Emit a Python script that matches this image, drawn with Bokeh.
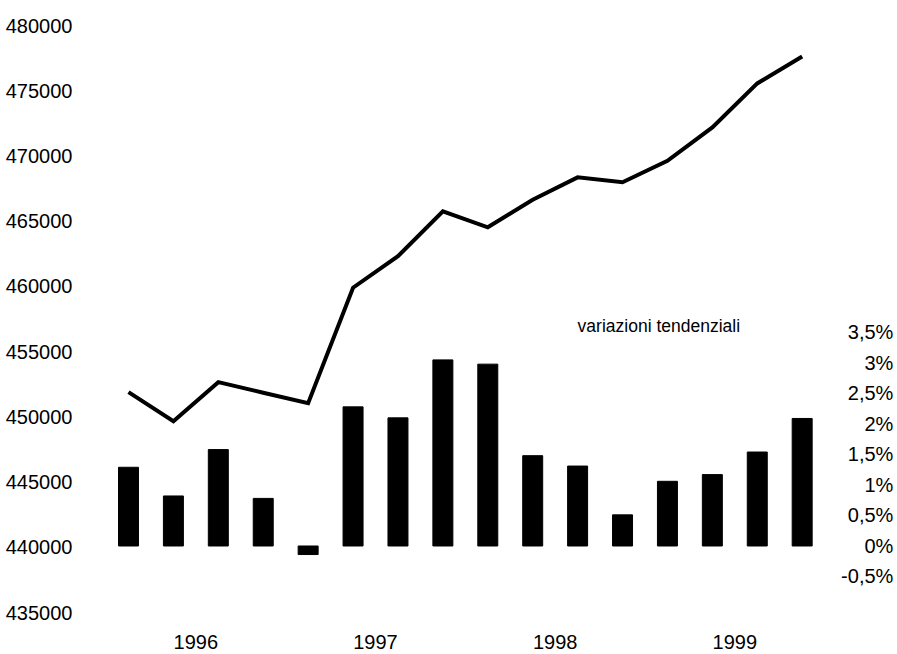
from bokeh.plotting import figure
from bokeh.models import Range1d, FixedTicker, BasicTickFormatter, Label, ColumnDataSource
from bokeh.embed import file_html
from bokeh.resources import INLINE

# ---- data ----
quarters = ["1996 T1", "1996 T2", "1996 T3", "1996 T4",
            "1997 T1", "1997 T2", "1997 T3", "1997 T4",
            "1998 T1", "1998 T2", "1998 T3", "1998 T4",
            "1999 T1", "1999 T2", "1999 T3", "1999 T4"]
level = [451890, 449670, 452660, 451850, 451050, 459900, 462310, 465750,
         464530, 466640, 468360, 467980, 469620, 472190, 475560, 477630]
variation = [1.29, 0.82, 1.58, 0.78, -0.14, 2.28, 2.10, 3.05,
             2.98, 1.48, 1.31, 0.51, 1.06, 1.17, 1.54, 2.09]
year_labels = ["1996", "1997", "1998", "1999"]
left_ticks = [435000, 440000, 445000, 450000, 455000, 460000, 465000, 470000, 475000, 480000]
pct_ticks = [-0.5, 0, 0.5, 1, 1.5, 2, 2.5, 3, 3.5]
pct_tick_labels = ["-0,5%", "0%", "0,5%", "1%", "1,5%", "2%", "2,5%", "3%", "3,5%"]
series_note = "variazioni tendenziali"

FONT = "Liberation Sans"
idx = list(range(len(quarters)))
src = ColumnDataSource(dict(x=idx, level=level, var=variation))

p = figure(width=895, height=652, output_backend="svg", toolbar_location=None,
           x_range=Range1d(-0.846, 17.078), y_range=Range1d(435000, 480000),
           min_border_left=90, min_border_right=0, min_border_top=25, min_border_bottom=40)
p.extra_y_ranges = {"pct": Range1d(-1.09, 8.53)}
p.outline_line_color = None
p.background_fill_color = "white"
p.border_fill_color = "white"
p.xgrid.visible = False
p.ygrid.visible = False

# bars: year-on-year variation (right scale)
p.vbar(x="x", top="var", bottom=0, width=0.445, source=src, y_range_name="pct",
       fill_color="black", line_color="black")
# line: level (left scale)
p.line(x="x", y="level", source=src, line_width=4, line_color="black", line_join="miter")

# left axis
ya = p.yaxis[0]
ya.ticker = FixedTicker(ticks=left_ticks)
ya.formatter = BasicTickFormatter(use_scientific=False)
ya.axis_line_color = None
ya.major_tick_line_color = None
ya.minor_tick_line_color = None
ya.major_label_standoff = 12
ya.major_label_text_font = FONT
ya.major_label_text_font_size = "20px"
ya.major_label_text_color = "black"

# bottom axis with years
xa = p.xaxis[0]
year_pos = [i * 4 + 1.5 for i in range(len(year_labels))]
xa.ticker = FixedTicker(ticks=year_pos)
xa.major_label_overrides = {pos: lab for pos, lab in zip(year_pos, year_labels)}
xa.axis_line_color = None
xa.major_tick_line_color = None
xa.minor_tick_line_color = None
xa.major_label_standoff = 16
xa.major_label_text_font = FONT
xa.major_label_text_font_size = "20px"
xa.major_label_text_color = "black"

# right-hand percentage scale labels (right aligned)
for t, lab in zip(pct_ticks, pct_tick_labels):
    p.add_layout(Label(x=17.03, y=t, y_range_name="pct", text=lab,
                       text_align="right", text_baseline="middle",
                       text_font=FONT, text_font_size="20px", text_color="black"))

p.add_layout(Label(x=10.0, y=3.6, y_range_name="pct", text=series_note,
                   text_align="left", text_baseline="middle",
                   text_font=FONT, text_font_size="17.5px", text_color="black"))

open("out.html", "w").write(file_html(p, INLINE))
